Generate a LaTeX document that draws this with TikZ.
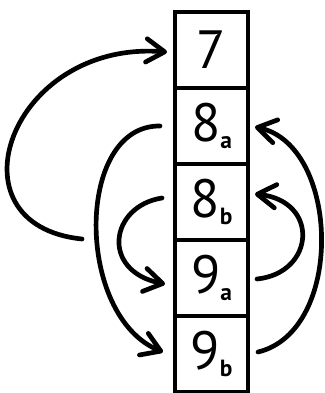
\documentclass[tikz,border=0pt]{standalone}
\usepackage{fontspec}
\setmainfont{PT Sans}
\usetikzlibrary{arrows.meta, positioning, calc}

\newcommand{\lab}[2]{#1\raisebox{-6.5pt}{\fontsize{20}{20}\selectfont\bfseries #2}}

\begin{document}
\begin{tikzpicture}[
    x=0.03cm, y=-0.03cm,
    node distance=0pt,
    cell/.style={rectangle, draw, line width=3.6pt, minimum width=2.19cm, minimum height=2.28cm, outer sep=0pt, inner sep=0pt, font=\fontsize{46}{46}\selectfont},
    arrow/.style={-{Straight Barb[length=5.5mm, width=7mm, round]}, line width=4pt, line cap=round}
]
    \useasboundingbox (0,0) rectangle (324,393);

    \node (b7) [cell] at (211.5,50) {7};
    \node (b8a) [cell, below=of b7] {\lab{8}{a}};
    \node (b8b) [cell, below=of b8a] {\lab{8}{b}};
    \node (b9a) [cell, below=of b8b] {\lab{9}{a}};
    \node (b9b) [cell, below=of b9a] {\lab{9}{b}};

    \coordinate (loose) at (82,239);

    % left side
    \draw[arrow] (loose) .. controls +(-137,-14) and +(-157,-12) .. ($(b7.west)+(-8,2)$);
    \draw[arrow] ($(b8a.west)+(-15,0)$) .. controls +(-85,-1) and +(-88,-36) .. ($(b9b.west)+(-12,-2)$);
    \draw[arrow] ($(b8b.west)+(-13,-4)$) .. controls +(-52,8) and +(-65,-13) .. ($(b9a.west)+(-10,6)$);

    % right side
    \draw[arrow] ($(b9a.east)+(9,1)$) .. controls +(58,-6) and +(65,7) .. ($(b8b.east)+(7,-8)$);
    \draw[arrow] ($(b9b.east)+(10,-2)$) .. controls +(87,-21) and +(85,18) .. ($(b8a.east)+(7,1)$);
\end{tikzpicture}
\end{document}
